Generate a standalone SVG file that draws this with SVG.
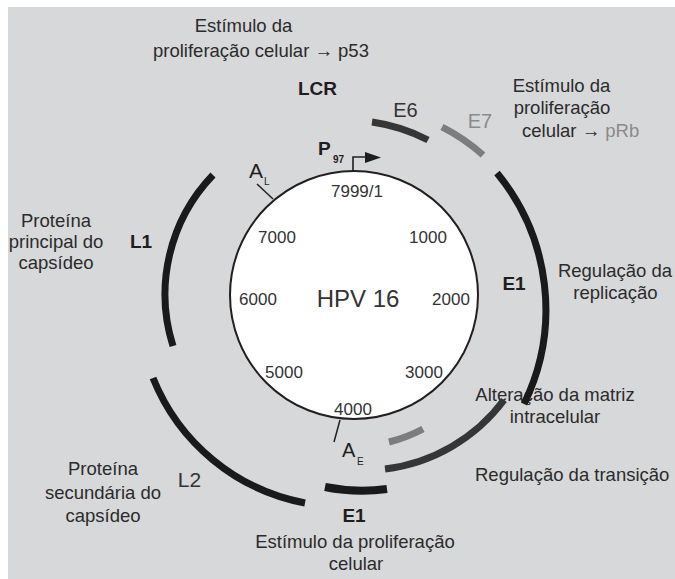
<svg xmlns="http://www.w3.org/2000/svg" width="675" height="579" viewBox="0 0 675 579">
<style>
.t{font-family:"Liberation Sans",Arial,sans-serif;font-size:18.5px;fill:#2b2b2b}
.m{text-anchor:middle}
.n{font-family:"Liberation Sans",Arial,sans-serif;font-size:17px;fill:#333;text-anchor:middle}
.g{font-family:"Liberation Sans",Arial,sans-serif;font-size:19px;font-weight:bold;fill:#1e1e1e;text-anchor:middle}
.r{font-family:"Liberation Sans",Arial,sans-serif;font-size:20px;fill:#333;text-anchor:middle}
.arc{fill:none;stroke-width:7;stroke-linecap:butt}
.k{stroke:#1a1a1a}
.d{stroke:#363636}
.l{stroke:#7d7d7d}
.tick{stroke:#231f20;stroke-width:1.5;fill:none}
</style>
<rect x="8" y="7" width="667" height="572" fill="#d7d8da"/>

<g id="labels">
<text class="t m" x="243.5" y="32">Estímulo da</text>
<text class="t" x="153" y="57">proliferação celular → p53</text>
<text class="t m" x="561.5" y="92">Estímulo da</text>
<text class="t m" x="562" y="114">proliferação</text>
<text class="t" x="522" y="137">celular → <tspan style="fill:#8a8a8a">pRb</tspan></text>
<text class="t m" x="615" y="277">Regulação da</text>
<text class="t m" x="615.5" y="299">replicação</text>
<text class="t m" x="555" y="401">Alteração da matriz</text>
<text class="t m" x="555" y="423">intracelular</text>
<text class="t" x="475" y="481">Regulação da transição</text>
<text class="t m" x="56" y="227">Proteína</text>
<text class="t m" x="56" y="248">principal do</text>
<text class="t m" x="56" y="269">capsídeo</text>
<text class="t m" x="103" y="475">Proteína</text>
<text class="t m" x="103" y="499">secundária do</text>
<text class="t m" x="103" y="522">capsídeo</text>
<text class="t m" x="355" y="548">Estímulo da proliferação</text>
<text class="t m" x="356" y="570">celular</text>
</g>

<g id="genome">
<circle cx="354" cy="295" r="124" fill="#fff" stroke="#231f20" stroke-width="2"/>
<text class="r" x="358" y="307" style="font-size:24px">HPV 16</text>
<text class="n" x="357" y="197">7999/1</text>
<text class="n" x="277" y="243">7000</text>
<text class="n" x="428" y="243">1000</text>
<text class="n" x="258" y="305">6000</text>
<text class="n" x="451" y="305">2000</text>
<text class="n" x="284" y="378">5000</text>
<text class="n" x="424" y="378">3000</text>
<text class="n" x="353" y="415">4000</text>
</g>

<g id="lcr">
<text class="g" x="317.5" y="95">LCR</text>
</g>

<g id="p97">
<text x="318" y="155" style="font-family:'Liberation Sans',Arial,sans-serif;font-size:19px;font-weight:bold;fill:#1e1e1e">P</text>
<text x="333" y="163" style="font-family:'Liberation Sans',Arial,sans-serif;font-size:10px;font-weight:bold;fill:#1e1e1e">97</text>
</g>

<g id="AL">
<text x="249" y="178" style="font-family:'Liberation Sans',Arial,sans-serif;font-size:21px;fill:#1e1e1e">A</text>
<text x="264" y="185" style="font-family:'Liberation Sans',Arial,sans-serif;font-size:10px;fill:#1e1e1e">L</text>
</g>

<g id="AE">
<text x="342" y="457" style="font-family:'Liberation Sans',Arial,sans-serif;font-size:20px;fill:#1e1e1e">A</text>
<text x="357" y="465" style="font-family:'Liberation Sans',Arial,sans-serif;font-size:10px;fill:#1e1e1e">E</text>
</g>

<g id="E6">
<path class="arc d" d="M372 122 A175 175 0 0 1 428 140"/>
<text class="r" x="405.5" y="117">E6</text>
</g>

<g id="E7">
<path class="arc l" d="M442 127 A190 190 0 0 1 483 155"/>
<text class="r" x="480" y="128" style="fill:#8a8a8a">E7</text>
</g>

<g id="E1">
<path class="arc k" d="M497 173 A215 215 0 0 1 524 404"/>
<text class="g" x="514" y="290">E1</text>
</g>

<g id="E4">
<path class="arc l" d="M423 429 A150 150 0 0 1 389 442"/>
</g>

<g id="E2">
<path class="arc d" d="M504 400 A175 175 0 0 1 385 469"/>
</g>

<g id="E5">
<path class="arc k" style="stroke-width:8" d="M387 489 A190 190 0 0 1 325 487"/>
<text class="g" x="354" y="522">E1</text>
</g>

<g id="L2">
<path class="arc k" d="M305 503 A205 205 0 0 1 153 378"/>
<text class="r" x="189.5" y="487" style="font-size:21px">L2</text>
</g>

<g id="L1">
<path class="arc k" d="M173 346 A172 172 0 0 1 213 175"/>
<text class="g" x="141" y="248">L1</text>
</g>

<g id="connectors">
<path class="tick" d="M257 184 L273 199"/>
<path class="tick" d="M340 420 L334 442"/>
<path d="M353 171 V157 H368" fill="none" stroke="#231f20" stroke-width="1.6"/>
<polygon points="365,152 381,157.5 365,163" fill="#1e1e1e"/>
</g>
</svg>
